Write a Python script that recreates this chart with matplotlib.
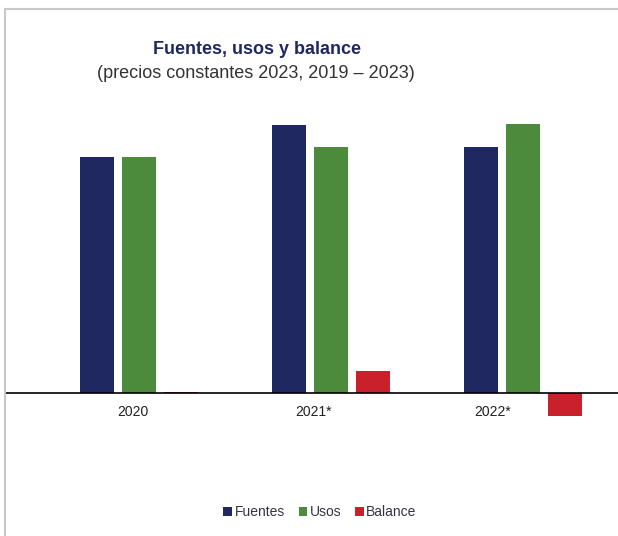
import matplotlib
matplotlib.use("Agg")
import matplotlib.pyplot as plt
import numpy as np
from matplotlib.lines import Line2D
from matplotlib.transforms import ScaledTranslation

plt.rcParams['font.family'] = ['Liberation Sans', 'DejaVu Sans']

categories = ["2020", "2021*", "2022*"]
fuentes = [23.6, 26.8, 24.6]
usos = [23.6, 24.6, 26.9]
balance = [0.15, 2.2, -2.3]

C_F = "#1F2860"
C_U = "#4B8B3B"
C_B = "#C9202B"

W, H = 618, 536
fig = plt.figure(figsize=(W / 100, H / 100), dpi=100)
fig.patch.set_facecolor("white")

# axes placement (pixels)
ax_left, ax_right = 6, 618
ax_top, ax_bot = 93, 433
ax = fig.add_axes([ax_left / W, 1 - ax_bot / H, (ax_right - ax_left) / W, (ax_bot - ax_top) / H])
ax.set_facecolor("none")

x = np.arange(len(categories))
bw = 0.177
off = 0.219
ax.bar(x - off, fuentes, bw, color=C_F, label="Fuentes", zorder=2)
ax.bar(x, usos, bw, color=C_U, label="Usos", zorder=2)
ax.bar(x + off, balance, bw, color=C_B, label="Balance", zorder=2)

ax.set_xlim(-0.693, 2.495)
ax.set_ylim(-4, 30)
for s in ax.spines.values():
    s.set_visible(False)
ax.spines['bottom'].set_visible(True)
ax.spines['bottom'].set_position(('data', 0))
ax.spines['bottom'].set_color("black")
ax.spines['bottom'].set_linewidth(1.2)
ax.spines['bottom'].set_zorder(3)
ax.set_yticks([])
ax.set_xticks(x)
ax.set_xticklabels(categories, fontsize=10, color="#222222")
ax.tick_params(axis="x", length=0, pad=9)
label_shift_px = [-6, -18, -30]
for lab, dx in zip(ax.get_xticklabels(), label_shift_px):
    lab.set_transform(lab.get_transform() + ScaledTranslation(dx / 100, 0, fig.dpi_scale_trans))

# titles
fig.text(257 / W, 1 - 49 / H, "Fuentes, usos y balance", ha="center", va="center",
         fontsize=13, fontweight="bold", color="#1F2860")
fig.text(256 / W, 1 - 73 / H, "(precios constantes 2023, 2019 \u2013 2023)", ha="center", va="center",
         fontsize=13, color="#333333")

# legend
leg = fig.legend(loc="center", bbox_to_anchor=(320 / W, 1 - 512 / H), ncol=3, frameon=False,
                 fontsize=10, handlelength=0.6, handleheight=0.6, handletextpad=0.2,
                 columnspacing=1.0, borderaxespad=0)
for t in leg.get_texts():
    t.set_color("#333344")

# outer frame
fig.add_artist(Line2D([5 / W, 1], [1 - 9 / H, 1 - 9 / H], color="#C8C8C8", lw=1.5))
fig.add_artist(Line2D([5 / W, 5 / W], [0, 1 - 9 / H], color="#C8C8C8", lw=1.5))

fig.savefig("out.png", dpi=100)
